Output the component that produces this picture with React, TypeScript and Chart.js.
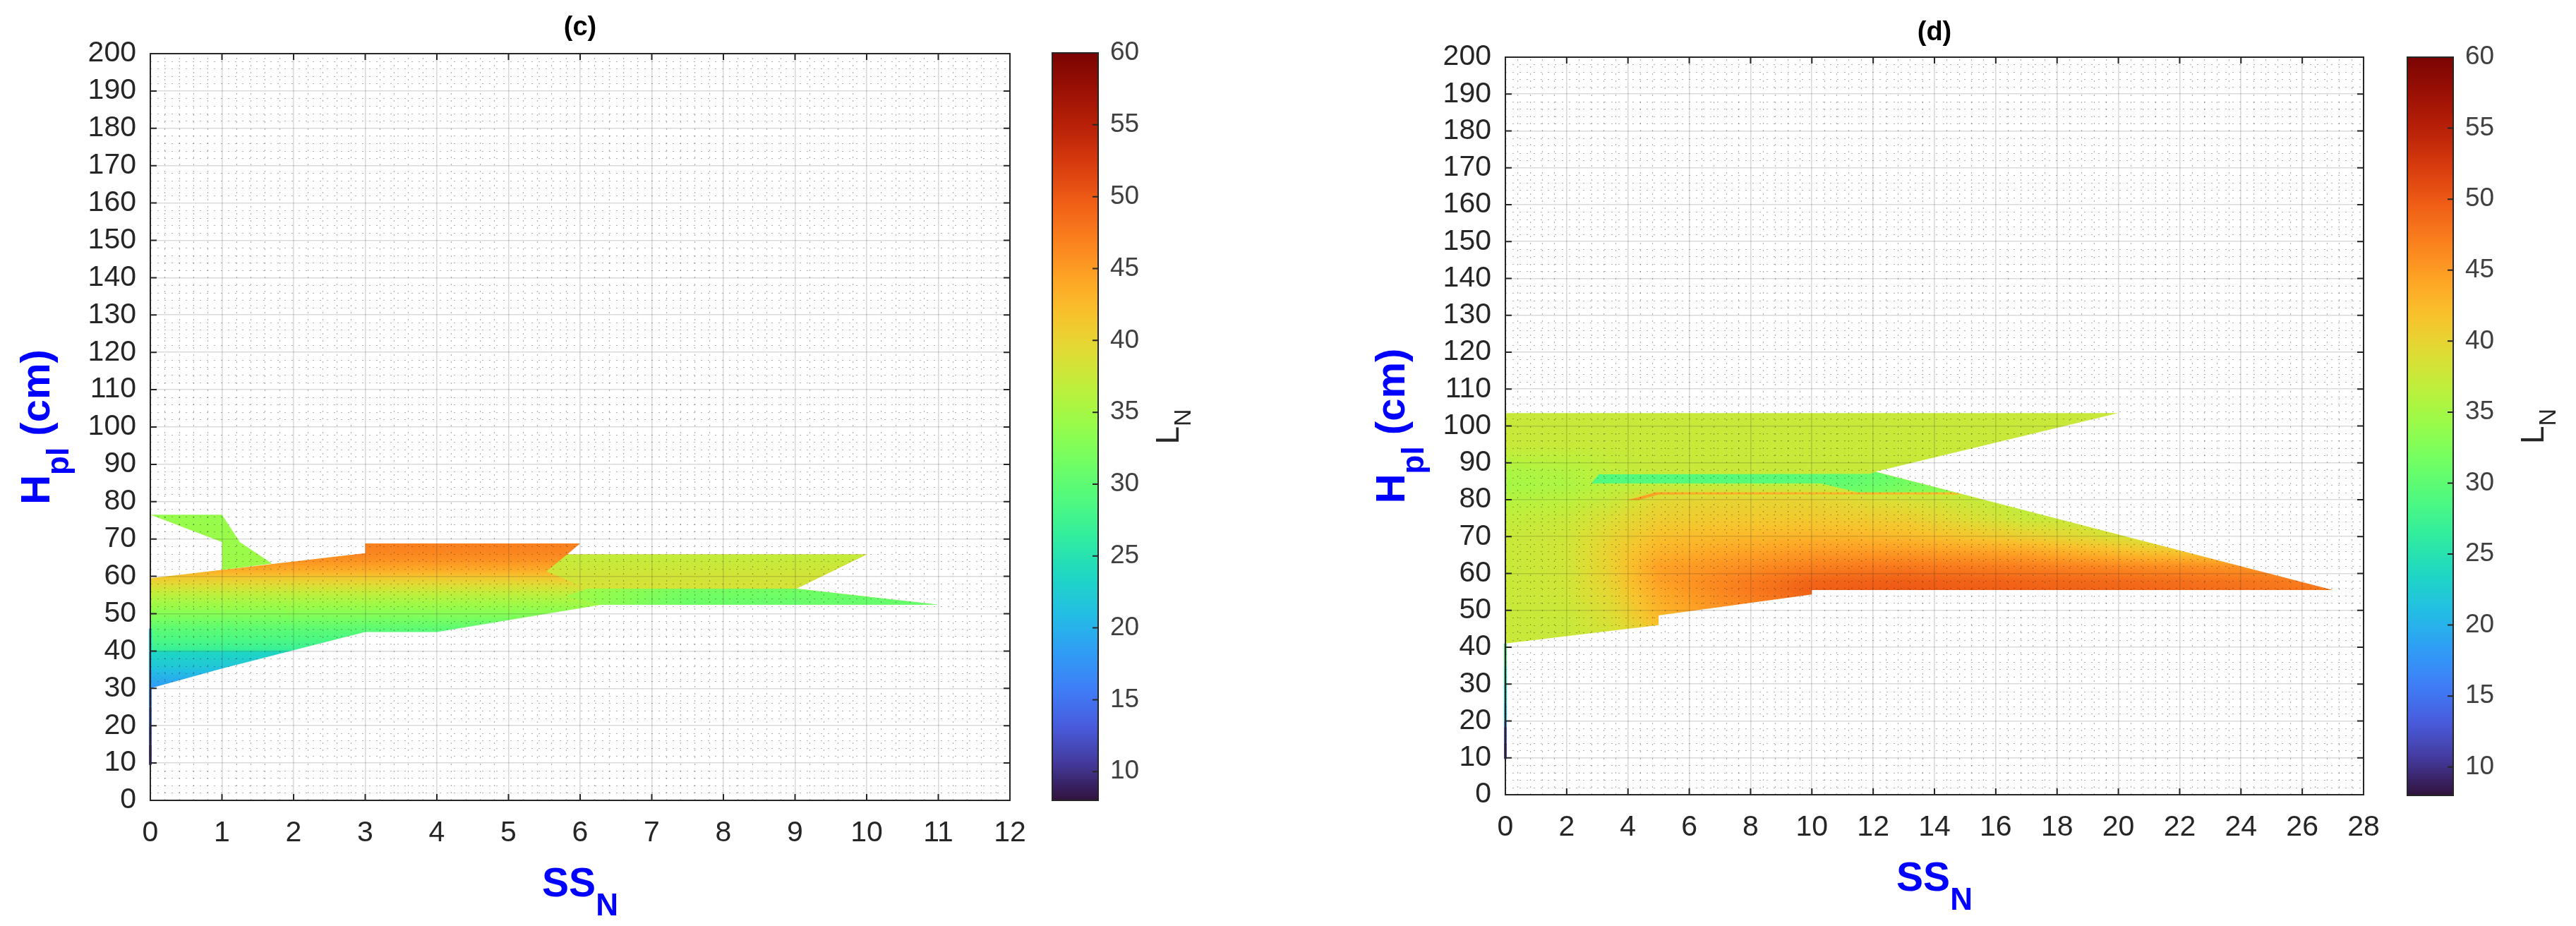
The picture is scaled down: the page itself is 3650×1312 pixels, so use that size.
import React, { useEffect, useRef } from 'react';
import { Chart, registerables } from 'chart.js';

Chart.register(...registerables);

if (typeof document !== 'undefined') {
  document.body.style.margin = '0';
  document.body.style.background = '#ffffff';
}

const FONT = '"Liberation Sans", Arial, Helvetica, sans-serif';
const AX = '#262626';

// ---------------- axes / ticks ----------------
const yTicks = [0, 10, 20, 30, 40, 50, 60, 70, 80, 90, 100, 110, 120, 130, 140, 150, 160, 170, 180, 190, 200];
const cXTicks = [0, 1, 2, 3, 4, 5, 6, 7, 8, 9, 10, 11, 12];
const dXTicks = [0, 2, 4, 6, 8, 10, 12, 14, 16, 18, 20, 22, 24, 26, 28];
const cbarTicks = [10, 15, 20, 25, 30, 35, 40, 45, 50, 55, 60];
const L_MIN = 8;
const L_MAX = 60;

// ---------------- panel (c) regions ----------------
const cMainOutline: [number, number][] = [
  [0, 30], [0, 59.5], [3, 66.2], [3, 68.8], [6, 68.8], [5.82, 65.9], [10, 65.9], [9.02, 56.7],
  [11, 52.4], [6.3, 52.4], [4, 45.1], [3, 45.1], [2, 40.2], [1, 35.3],
];
const cMainRowsY = [30, 33, 36, 39.6, 40.4, 43, 46, 50, 53, 55, 57.5, 59.5, 61.5, 64, 66, 68.8];
const cMainRowsL = [18, 20, 22, 23.5, 27, 28.5, 30, 33, 35, 36.5, 39, 41, 43.5, 45.5, 46.5, 47];

const cRightOutline: [number, number][] = [[5.53, 61.3], [5.82, 65.9], [10, 65.9], [9.02, 56.7], [6.1, 56.7]];
const cRightRowsY = [56.7, 61.3, 65.9];
const cRightRowsL = [38.5, 38, 37];

const cSpikeOutline: [number, number][] = [[5.8, 54.6], [6.3, 52.4], [11, 52.4], [9.02, 56.7], [6.1, 56.7]];
const cSpikeColsX = [5.8, 7.5, 11];
const cSpikeRowsY = [52.4, 56.7];
const cSpikeL = [[34.5, 31, 30.5], [35, 32, 31]];

const cUpperOutline: [number, number][] = [[0, 76.5], [1, 76.5], [1.25, 69.2], [1.7, 63.4], [1, 61.7], [1, 69.2]];
const cUpperRowsY = [61, 77];
const cUpperRowsL = [34.5, 34];

const cEdgeY = [9.5, 15, 20, 25, 30, 35, 40, 46];
const cEdgeL = [10, 11.5, 13, 15, 17, 19, 21, 23.5];

// ---------------- panel (d) regions ----------------
const dMainOutline: [number, number][] = [
  [0, 41], [5, 46], [5, 48.6], [10, 54.3], [10, 55.5], [27, 55.5], [12.08, 87.6], [20, 103.5], [0, 103.5],
];
const dMainColsX = [0, 2, 3.5, 5, 7, 10, 13, 17, 21, 27];
const dMainRowsY = [41, 48, 55.5, 58, 62, 66, 70, 75, 80, 84, 88, 95, 103.5];
const dMainL = [
  [37.5, 37.5, 38, 40, 43, 46, 48, 48, 48, 47],
  [37.5, 37.5, 39, 42.5, 45, 47.5, 49, 49, 48.5, 47.5],
  [37.5, 38, 40, 44, 46.5, 49.5, 50, 49.5, 49, 47.5],
  [37.5, 38, 40.5, 44.5, 46.5, 49, 49.5, 49, 48.5, 47],
  [37.5, 38, 40.5, 44.5, 45.5, 47, 47.5, 47, 46, 45],
  [37.5, 38, 40.5, 43, 44, 45, 45, 44, 41.5, 40],
  [37.5, 38, 40, 42, 42.5, 43, 42.5, 40.5, 38, 37],
  [37, 37.5, 39, 40.5, 41, 41, 40.5, 37.5, 37, 37],
  [36, 36.5, 37.5, 39.5, 40, 40, 38.5, 36.5, 36, 36],
  [35, 35.5, 36.5, 37, 37, 37, 36.5, 36, 36, 36],
  [35.5, 36, 37, 37.5, 37.5, 37.5, 37.5, 37.5, 37.5, 37.5],
  [37.5, 37.5, 37.5, 37.5, 37.5, 37.5, 37.5, 37.5, 37.5, 37.5],
  [37.5, 37.5, 37.5, 37.5, 37.5, 37.5, 37.5, 37.5, 37.5, 37.5],
];

const dStripOutline: [number, number][] = [
  [2.8, 84.4], [3.05, 86.9], [11.9, 87.0], [12.08, 87.5], [14.75, 81.8], [11.6, 81.8], [10.3, 84.4],
];
const dStripColsX = [2.8, 10.3, 12.1, 14.8];
const dStripRowsY = [81.8, 84.4, 87.5];
const dStripL = [[30, 31, 32, 34], [29, 30, 31, 33], [29, 29.5, 30.5, 32]];

const dRimOutline: [number, number][] = [[4.0, 79.9], [4.9, 82.0], [14.6, 82.0], [14.9, 81.4], [5.0, 81.4], [4.35, 79.9]];
const dRimColsX = [4, 6, 15];
const dRimColsL = [45, 43.5, 42];

const dEdgeY = [9.7, 14, 18.5, 20, 25, 30, 35, 41];
const dEdgeL = [10, 12, 14, 21, 23, 25.5, 27.5, 29.5];

// ---------------- colormap (turbo) ----------------
const TURBO: number[][] = [
  [48, 18, 59], [68, 58, 157], [72, 92, 221], [62, 126, 247], [47, 158, 245], [35, 190, 228],
  [30, 215, 195], [48, 236, 160], [78, 249, 128], [111, 254, 100], [150, 252, 75], [188, 240, 60],
  [223, 220, 52], [248, 194, 44], [254, 163, 37], [250, 128, 30], [240, 94, 22], [216, 60, 14],
  [186, 34, 8], [155, 16, 4], [122, 4, 3],
];

function turboRGB(v: number): [number, number, number] {
  let t = (v - L_MIN) / (L_MAX - L_MIN);
  if (t < 0) t = 0;
  if (t > 1) t = 1;
  const s = t * 20;
  const i = Math.min(19, Math.floor(s));
  const f = s - i;
  const a = TURBO[i];
  const b = TURBO[i + 1];
  return [a[0] + (b[0] - a[0]) * f, a[1] + (b[1] - a[1]) * f, a[2] + (b[2] - a[2]) * f];
}
function turboCss(v: number): string {
  const [r, g, b] = turboRGB(v);
  return `rgb(${Math.round(r)},${Math.round(g)},${Math.round(b)})`;
}

type Region = { outline: [number, number][]; fx: number[]; fy: number[]; fl: number[][] };

const rowsOnly = (ls: number[]): number[][] => ls.map((l) => [l, l]);

const cRegions: { reg: Region; name: string }[] = [
  { name: 'cMain', reg: { outline: cMainOutline, fx: [0, 12], fy: cMainRowsY, fl: rowsOnly(cMainRowsL) } },
  { name: 'cRight', reg: { outline: cRightOutline, fx: [0, 12], fy: cRightRowsY, fl: rowsOnly(cRightRowsL) } },
  { name: 'cSpike', reg: { outline: cSpikeOutline, fx: cSpikeColsX, fy: cSpikeRowsY, fl: cSpikeL } },
  { name: 'cUpper', reg: { outline: cUpperOutline, fx: [0, 2], fy: cUpperRowsY, fl: rowsOnly(cUpperRowsL) } },
];
const dRegions: { reg: Region; name: string }[] = [
  { name: 'dMain', reg: { outline: dMainOutline, fx: dMainColsX, fy: dMainRowsY, fl: dMainL } },
  { name: 'dStrip', reg: { outline: dStripOutline, fx: dStripColsX, fy: dStripRowsY, fl: dStripL } },
  { name: 'dRim', reg: { outline: dRimOutline, fx: dRimColsX, fy: [79, 83], fl: [dRimColsL, dRimColsL] } },
];

function locate(arr: number[], v: number): [number, number] {
  const n = arr.length;
  if (n < 2 || v <= arr[0]) return [0, 0];
  if (v >= arr[n - 1]) return [n - 2, 1];
  let i = 0;
  while (i < n - 2 && v > arr[i + 1]) i++;
  return [i, (v - arr[i]) / (arr[i + 1] - arr[i])];
}

const patternCache = new Map<string, any>();

function buildPattern(chart: any, reg: Region): any {
  const area = chart.chartArea;
  const xs = chart.scales.x;
  const ys = chart.scales.y;
  const W = chart.width;
  const H = chart.height;
  const px = reg.outline.map((p) => xs.getPixelForValue(p[0]));
  const py = reg.outline.map((p) => ys.getPixelForValue(p[1]));
  const x0 = Math.max(Math.floor(area.left) - 3, Math.floor(Math.min(...px)) - 3, 0);
  const x1 = Math.min(Math.ceil(area.right) + 3, Math.ceil(Math.max(...px)) + 3, W);
  const y0 = Math.max(Math.floor(area.top) - 3, Math.floor(Math.min(...py)) - 3, 0);
  const y1 = Math.min(Math.ceil(area.bottom) + 3, Math.ceil(Math.max(...py)) + 3, H);
  const w = Math.max(1, x1 - x0);
  const h = Math.max(1, y1 - y0);
  const off = document.createElement('canvas');
  off.width = W;
  off.height = H;
  const octx = off.getContext('2d') as CanvasRenderingContext2D;
  const img = octx.createImageData(w, h);
  const colI = new Int32Array(w);
  const colF = new Float32Array(w);
  for (let i = 0; i < w; i++) {
    const [k, f] = locate(reg.fx, xs.getValueForPixel(x0 + i + 0.5));
    colI[i] = k;
    colF[i] = f;
  }
  const last = reg.fl.length - 1;
  for (let j = 0; j < h; j++) {
    const [r, fr] = locate(reg.fy, ys.getValueForPixel(y0 + j + 0.5));
    const rowA = reg.fl[Math.min(r, last)];
    const rowB = reg.fl[Math.min(r + 1, last)];
    for (let i = 0; i < w; i++) {
      const k = colI[i];
      const f = colF[i];
      const k2 = Math.min(k + 1, rowA.length - 1);
      const va = rowA[k] + (rowA[k2] - rowA[k]) * f;
      const vb = rowB[k] + (rowB[k2] - rowB[k]) * f;
      const [R, G, B] = turboRGB(va + (vb - va) * fr);
      const o = (j * w + i) * 4;
      img.data[o] = R;
      img.data[o + 1] = G;
      img.data[o + 2] = B;
      img.data[o + 3] = 255;
    }
  }
  octx.putImageData(img, x0, y0);
  return chart.ctx.createPattern(off, 'no-repeat') || 'rgba(0,0,0,0)';
}

function regionDataset(reg: Region, name: string, order: number): any {
  return {
    type: 'line',
    data: reg.outline.map(([x, y]) => ({ x, y })),
    fill: 'shape',
    backgroundColor: (context: any) => {
      const chart = context.chart;
      const a = chart.chartArea;
      if (!a || !chart.scales || !chart.scales.x) return 'rgba(0,0,0,0)';
      const key = `${chart.id}|${name}|${a.left}|${a.top}|${a.right}|${a.bottom}`;
      let p = patternCache.get(key);
      if (!p) {
        p = buildPattern(chart, reg);
        patternCache.set(key, p);
      }
      return p;
    },
    borderColor: 'rgba(0,0,0,0)',
    borderWidth: 0,
    pointRadius: 0,
    pointHoverRadius: 0,
    pointHitRadius: 0,
    pointBackgroundColor: 'rgba(0,0,0,0)',
    pointBorderColor: 'rgba(0,0,0,0)',
    tension: 0,
    order,
  };
}

function drawParts(ctx: CanvasRenderingContext2D, parts: { t: string; font: string; dy: number }[], cx: number, base: number) {
  let total = 0;
  const widths = parts.map((p) => {
    ctx.font = p.font;
    const w = ctx.measureText(p.t).width;
    total += w;
    return w;
  });
  let x = cx - total / 2;
  parts.forEach((p, i) => {
    ctx.font = p.font;
    ctx.fillText(p.t, x, base + p.dy);
    x += widths[i];
  });
}

function panelConfig(o: {
  regions: { reg: Region; name: string }[];
  edgeY: number[];
  edgeL: number[];
  xMax: number;
  xTicks: number[];
  xMajor: number;
  xMinor: number;
  title: string;
  titlePadTop: number;
  titlePadBottom: number;
  yAxisWidth: number;
  padRight: number;
  padBottom: number;
}): any {
  const n = o.regions.length;
  const datasets: any[] = o.regions.map((r, i) => regionDataset(r.reg, r.name, n - i + 1));
  datasets.push({
    type: 'line',
    data: o.edgeY.map((y) => ({ x: 0, y })),
    fill: false,
    borderWidth: 4,
    borderColor: turboCss(o.edgeL[0]),
    segment: {
      borderColor: (sc: any) => turboCss((o.edgeL[sc.p0DataIndex] + o.edgeL[sc.p1DataIndex]) / 2),
    },
    pointRadius: 0,
    pointHoverRadius: 0,
    tension: 0,
    clip: 6,
    order: 0,
  });

  const decor = {
    id: 'panelDecor',
    afterDatasetsDraw(chart: any) {
      const { ctx, chartArea: a } = chart;
      const xs = chart.scales.x;
      const ys = chart.scales.y;
      ctx.save();
      ctx.beginPath();
      ctx.rect(a.left, a.top, a.right - a.left, a.bottom - a.top);
      ctx.clip();
      ctx.strokeStyle = 'rgba(30,30,30,0.36)';
      ctx.lineWidth = 1.2;
      ctx.setLineDash([2, 8]);
      for (let k = 1; k < 100; k++) {
        const v = k * 2;
        if (v >= 200) break;
        if (v % 10 === 0) continue;
        const y = Math.round(ys.getPixelForValue(v)) + 0.5;
        ctx.beginPath();
        ctx.moveTo(a.left, y);
        ctx.lineTo(a.right, y);
        ctx.stroke();
      }
      const steps = Math.round(o.xMax / o.xMinor);
      const per = Math.round(o.xMajor / o.xMinor);
      for (let k = 1; k < steps; k++) {
        if (k % per === 0) continue;
        const x = Math.round(xs.getPixelForValue(k * o.xMinor)) + 0.5;
        ctx.beginPath();
        ctx.moveTo(x, a.bottom);
        ctx.lineTo(x, a.top);
        ctx.stroke();
      }
      ctx.restore();
    },
    afterDraw(chart: any) {
      const { ctx, chartArea: a } = chart;
      const xs = chart.scales.x;
      const ys = chart.scales.y;
      ctx.save();
      ctx.strokeStyle = AX;
      ctx.lineWidth = 2;
      ctx.setLineDash([]);
      ctx.strokeRect(a.left, a.top, a.right - a.left, a.bottom - a.top);
      ctx.beginPath();
      o.xTicks.forEach((v) => {
        const x = xs.getPixelForValue(v);
        ctx.moveTo(x, a.bottom);
        ctx.lineTo(x, a.bottom - 9);
        ctx.moveTo(x, a.top);
        ctx.lineTo(x, a.top + 9);
      });
      yTicks.forEach((v) => {
        const y = ys.getPixelForValue(v);
        ctx.moveTo(a.left, y);
        ctx.lineTo(a.left + 9, y);
        ctx.moveTo(a.right, y);
        ctx.lineTo(a.right - 9, y);
      });
      ctx.stroke();

      ctx.fillStyle = '#0000ff';
      ctx.textBaseline = 'alphabetic';
      ctx.textAlign = 'left';
      const cx = (a.left + a.right) / 2;
      drawParts(
        ctx,
        [
          { t: 'SS', font: `bold 57px ${FONT}`, dy: 0 },
          { t: 'N', font: `bold 44px ${FONT}`, dy: 27 },
        ],
        cx,
        a.bottom + 136,
      );
      ctx.save();
      ctx.translate(a.left - 143, (a.top + a.bottom) / 2);
      ctx.rotate(-Math.PI / 2);
      drawParts(
        ctx,
        [
          { t: 'H', font: `bold 58px ${FONT}`, dy: 0 },
          { t: 'pl', font: `bold 44px ${FONT}`, dy: 27 },
          { t: ' (cm)', font: `bold 58px ${FONT}`, dy: 0 },
        ],
        0,
        0,
      );
      ctx.restore();
      ctx.restore();
    },
  };

  return {
    type: 'line',
    data: { datasets },
    options: {
      animation: false,
      responsive: false,
      maintainAspectRatio: false,
      devicePixelRatio: 1,
      events: [],
      layout: { padding: { left: 0, right: o.padRight, top: 0, bottom: o.padBottom } },
      plugins: {
        legend: { display: false },
        tooltip: { enabled: false },
        title: {
          display: true,
          text: o.title,
          fullSize: false,
          color: '#000000',
          font: { family: FONT, size: 38, weight: 'bold' },
          padding: { top: o.titlePadTop, bottom: o.titlePadBottom },
        },
      },
      scales: {
        x: {
          type: 'linear',
          min: 0,
          max: o.xMax,
          afterBuildTicks: (s: any) => {
            s.ticks = o.xTicks.map((v) => ({ value: v }));
          },
          afterFit: (s: any) => {
            s.height = 100;
          },
          ticks: { font: { family: FONT, size: 41 }, color: AX, padding: 22, maxRotation: 0, autoSkip: false },
          grid: { color: 'rgba(38,38,38,0.17)', lineWidth: 1.6, drawTicks: false, z: 1 },
          border: { display: false },
        },
        y: {
          type: 'linear',
          min: 0,
          max: 200,
          afterBuildTicks: (s: any) => {
            s.ticks = yTicks.map((v) => ({ value: v }));
          },
          afterFit: (s: any) => {
            s.width = o.yAxisWidth;
          },
          ticks: { font: { family: FONT, size: 41 }, color: AX, padding: 20, autoSkip: false },
          grid: { color: 'rgba(38,38,38,0.17)', lineWidth: 1.6, drawTicks: false, z: 1 },
          border: { display: false },
        },
      },
    },
    plugins: [decor],
  };
}

function colorbarConfig(o: { padTop: number; padBottom: number; axisWidth: number; labelBaseline: number }): any {
  const decor = {
    id: 'cbDecor',
    afterDraw(chart: any) {
      const { ctx, chartArea: a } = chart;
      const ys = chart.scales.y;
      ctx.save();
      ctx.strokeStyle = AX;
      ctx.lineWidth = 2;
      ctx.strokeRect(a.left + 1, a.top, a.right - a.left - 2, a.bottom - a.top);
      ctx.beginPath();
      cbarTicks.forEach((v) => {
        const y = ys.getPixelForValue(v);
        ctx.moveTo(a.right - 1, y);
        ctx.lineTo(a.right - 9, y);
      });
      ctx.stroke();
      ctx.fillStyle = AX;
      ctx.textBaseline = 'alphabetic';
      ctx.textAlign = 'left';
      ctx.translate(o.labelBaseline, (a.top + a.bottom) / 2);
      ctx.rotate(-Math.PI / 2);
      drawParts(
        ctx,
        [
          { t: 'L', font: `46px ${FONT}`, dy: 0 },
          { t: 'N', font: `34px ${FONT}`, dy: 17 },
        ],
        0,
        0,
      );
      ctx.restore();
    },
  };
  return {
    type: 'bar',
    data: {
      labels: ['LN'],
      datasets: [
        {
          data: [[L_MIN, L_MAX]],
          backgroundColor: (context: any) => {
            const chart = context.chart;
            if (!chart.chartArea) return 'rgba(0,0,0,0)';
            const ys = chart.scales.y;
            const g = chart.ctx.createLinearGradient(0, ys.getPixelForValue(L_MIN), 0, ys.getPixelForValue(L_MAX));
            const nStops = 104;
            for (let i = 0; i <= nStops; i++) {
              g.addColorStop(i / nStops, turboCss(L_MIN + ((L_MAX - L_MIN) * i) / nStops));
            }
            return g;
          },
          borderWidth: 0,
          barPercentage: 1,
          categoryPercentage: 1,
          inflateAmount: 0,
        },
      ],
    },
    options: {
      animation: false,
      responsive: false,
      maintainAspectRatio: false,
      devicePixelRatio: 1,
      events: [],
      layout: { padding: { left: 0, right: 0, top: o.padTop, bottom: o.padBottom } },
      plugins: { legend: { display: false }, tooltip: { enabled: false }, title: { display: false } },
      scales: {
        x: { display: false },
        y: {
          position: 'right',
          min: L_MIN,
          max: L_MAX,
          afterBuildTicks: (s: any) => {
            s.ticks = cbarTicks.map((v) => ({ value: v }));
          },
          afterFit: (s: any) => {
            s.width = o.axisWidth;
          },
          ticks: { font: { family: FONT, size: 37 }, color: '#404040', padding: 16, autoSkip: false },
          grid: { display: false, drawTicks: false },
          border: { display: false },
        },
      },
    },
    plugins: [decor],
  };
}

export default function App() {
  const cRef = useRef<HTMLCanvasElement>(null);
  const cbcRef = useRef<HTMLCanvasElement>(null);
  const dRef = useRef<HTMLCanvasElement>(null);
  const cbdRef = useRef<HTMLCanvasElement>(null);

  useEffect(() => {
    const charts: Chart[] = [];
    charts.push(
      new Chart(
        cRef.current as HTMLCanvasElement,
        panelConfig({
          regions: cRegions,
          edgeY: cEdgeY,
          edgeL: cEdgeL,
          xMax: 12,
          xTicks: cXTicks,
          xMajor: 1,
          xMinor: 0.2,
          title: '(c)',
          titlePadTop: 17,
          titlePadBottom: 13.4,
          yAxisWidth: 213,
          padRight: 49,
          padBottom: 78,
        }),
      ),
    );
    charts.push(new Chart(cbcRef.current as HTMLCanvasElement, colorbarConfig({ padTop: 75, padBottom: 178, axisWidth: 163, labelBaseline: 180 })));
    charts.push(
      new Chart(
        dRef.current as HTMLCanvasElement,
        panelConfig({
          regions: dRegions,
          edgeY: dEdgeY,
          edgeL: dEdgeL,
          xMax: 28,
          xTicks: dXTicks,
          xMajor: 2,
          xMinor: 0.4,
          title: '(d)',
          titlePadTop: 24,
          titlePadBottom: 11.4,
          yAxisWidth: 233,
          padRight: 51,
          padBottom: 86,
        }),
      ),
    );
    charts.push(new Chart(cbdRef.current as HTMLCanvasElement, colorbarConfig({ padTop: 81, padBottom: 185, axisWidth: 173, labelBaseline: 194 })));
    return () => {
      charts.forEach((c) => c.destroy());
    };
  }, []);

  return (
    <div style={{ position: 'relative', width: 3650, height: 1312, background: '#ffffff', overflow: 'hidden' }}>
      <canvas ref={cRef} width={1480} height={1312} style={{ position: 'absolute', left: 0, top: 0, width: 1480, height: 1312 }} />
      <canvas ref={cbcRef} width={230} height={1312} style={{ position: 'absolute', left: 1490, top: 0, width: 230, height: 1312 }} />
      <canvas ref={dRef} width={1500} height={1312} style={{ position: 'absolute', left: 1900, top: 0, width: 1500, height: 1312 }} />
      <canvas ref={cbdRef} width={240} height={1312} style={{ position: 'absolute', left: 3410, top: 0, width: 240, height: 1312 }} />
    </div>
  );
}
